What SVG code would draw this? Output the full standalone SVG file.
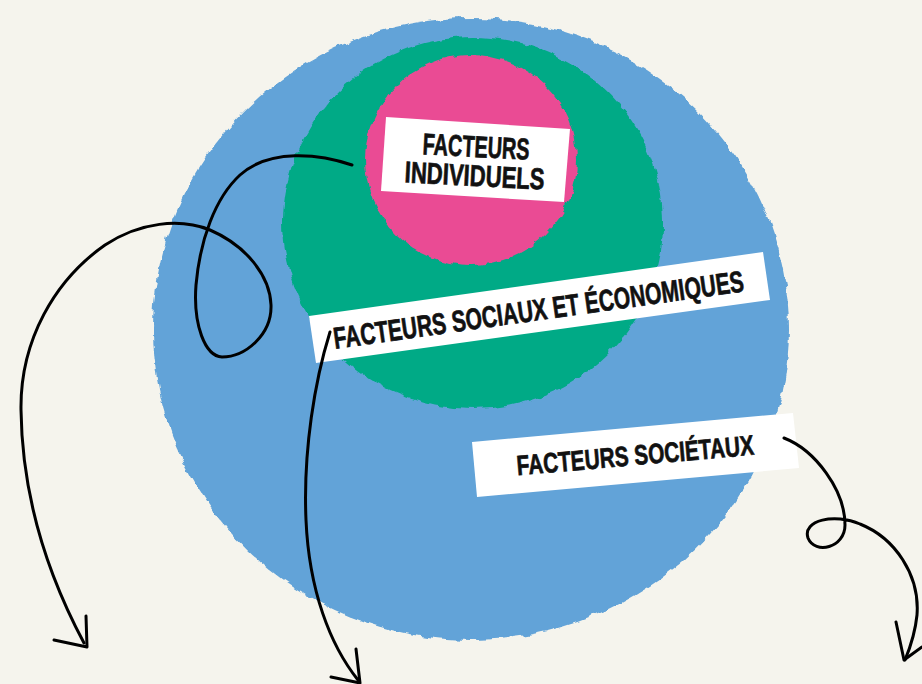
<svg xmlns="http://www.w3.org/2000/svg" width="922" height="684" viewBox="0 0 922 684">
  <defs>
    <filter id="rough" x="-5%" y="-5%" width="110%" height="110%">
      <feTurbulence type="fractalNoise" baseFrequency="0.09" numOctaves="2" seed="3" result="n"/>
      <feDisplacementMap in="SourceGraphic" in2="n" scale="7" xChannelSelector="R" yChannelSelector="G"/>
    </filter>
    <style>
      .blob { filter: url(#rough); }
      .tag { fill: #ffffff; }
      .lbl { font-family: "Liberation Sans", "DejaVu Sans", sans-serif; font-weight: bold; fill: #111111; stroke: #111111; stroke-width: 0.7; text-anchor: middle; }
      .line { fill: none; stroke: #000000; stroke-width: 3; stroke-linecap: round; stroke-linejoin: round; }
    </style>
  </defs>
  <rect x="0" y="0" width="922" height="684" fill="#f5f4ed"/>

  <g id="node-societaux">
    <ellipse class="blob" cx="471" cy="329" rx="318" ry="311" fill="#62a3d8"/>
    <polygon class="tag" points="472,442 793,413 799,468 477,497"/>
    <text class="lbl" x="636" y="465" font-size="28" textLength="238" lengthAdjust="spacingAndGlyphs" transform="rotate(-5 636 465)">FACTEURS SOCIÉTAUX</text>
  </g>

  <g id="node-sociaux">
    <ellipse class="blob" cx="473" cy="223" rx="190" ry="186" fill="#00aa86"/>
    <polygon class="tag" points="309,316 763,252 770,300 316,363"/>
    <text class="lbl" x="540" y="320" font-size="30" textLength="414" lengthAdjust="spacingAndGlyphs" transform="rotate(-8 540 320)">FACTEURS SOCIAUX ET ÉCONOMIQUES</text>
  </g>

  <g id="node-individuels">
    <ellipse class="blob" cx="471" cy="160" rx="106" ry="105" fill="#ea4b94"/>
    <polygon class="tag" points="386,117 570,129 564,202 381,191"/>
    <g transform="rotate(3 475 170)">
      <text class="lbl" x="475" y="157" font-size="30" textLength="107" lengthAdjust="spacingAndGlyphs">FACTEURS</text>
      <text class="lbl" x="475" y="186" font-size="30" textLength="140" lengthAdjust="spacingAndGlyphs">INDIVIDUELS</text>
    </g>
  </g>

  <g id="connectors">
    <path class="line" d="M352,165 C320,154 270,148 240,175 C215,198 200,240 196,285 C193,325 205,356 222,357 C245,357 272,335 271,305 C270,275 245,245 210,230 C180,218 140,222 105,245 C55,280 20,340 21,410 C22,490 45,570 84,643"/>
    <path class="line" d="M54,640 L87,647 L86,616"/>
    <path class="line" d="M330,332 C315,380 303,450 306,520 C309,590 330,645 358,680"/>
    <path class="line" d="M331,677 L360,683 L356,649"/>
    <path class="line" d="M784,438 C815,450 845,490 845,525 C845,548 815,555 808,538 C802,520 835,513 860,524 C895,538 920,575 917,615 C915,635 910,648 905,660"/>
    <path class="line" d="M896,622 L904,660 L922,647"/>
  </g>
</svg>
